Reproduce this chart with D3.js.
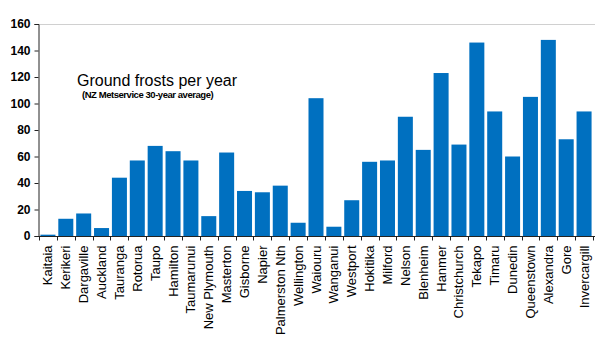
<!DOCTYPE html>
<html>
<head>
<meta charset="utf-8">
<script src="https://cdn.jsdelivr.net/npm/d3@7"></script>
<style>
  body { margin: 0; background: #fff; }
  svg { display: block; font-family: Arial, "Liberation Sans", sans-serif; }
</style>
</head>
<body>
<svg id="canvas" width="595" height="342"></svg>
<script>
'use strict';

const towns = ['Kaitaia', 'Kerikeri', 'Dargaville', 'Auckland', 'Tauranga', 'Rotorua',
  'Taupo', 'Hamilton', 'Taumarunui', 'New Plymouth', 'Masterton', 'Gisborne', 'Napier',
  'Palmerston Nth', 'Wellington', 'Waiouru', 'Wanganui', 'Westport', 'Hokitika',
  'Milford', 'Nelson', 'Blenheim', 'Hanmer', 'Christchurch', 'Tekapo', 'Timaru',
  'Dunedin', 'Queenstown', 'Alexandra', 'Gore', 'Invercargill'];
const frosts = [1, 13, 17, 6, 44, 57, 68, 64, 57, 15, 63, 34, 33, 38, 10, 104, 7, 27,
  56, 57, 90, 65, 123, 69, 146, 94, 60, 105, 148, 73, 94];
const yTicks = [0, 20, 40, 60, 80, 100, 120, 140, 160];

function Main() {
  const svg = d3.select('#canvas');
  const left = 39, right = 593, top = 24, bottom = 236;

  const x = d3.scaleBand().domain(towns).range([left, right]).paddingInner(0.16).paddingOuter(0.08);
  const y = d3.scaleLinear().domain([0, 160]).range([bottom, top]);

  // top border line
  svg.append('line')
    .attr('x1', left).attr('x2', 595)
    .attr('y1', y(160) + 0.5).attr('y2', y(160) + 0.5)
    .attr('stroke', '#d0d0d0').attr('stroke-width', 1);

  svg.selectAll('rect.bar')
      .data(frosts)
    .enter().append('rect')
      .attr('class', 'bar')
      .attr('x', function(d, i) { return x(towns[i]); })
      .attr('y', function(d) { return y(d); })
      .attr('width', x.bandwidth())
      .attr('height', function(d) { return bottom - y(d); })
      .attr('fill', '#0070c0');

  const yAxis = svg.append('g')
    .attr('transform', 'translate(' + (left - 0.5) + ',0)')
    .call(d3.axisLeft(y).tickValues(yTicks).tickSize(4).tickPadding(4));
  yAxis.select('.domain').attr('stroke', '#222');
  yAxis.selectAll('.tick line').attr('stroke', '#222');
  yAxis.selectAll('.tick text')
    .attr('fill', '#000').attr('font-size', 12).attr('font-weight', 'bold')
    .attr('font-family', 'Arial, "Liberation Sans", sans-serif');

  // x axis with ticks at band boundaries
  const step = x.step();
  const xAxis = svg.append('g').attr('transform', 'translate(0,' + (bottom + 0.5) + ')');
  xAxis.append('line')
    .attr('x1', left - 1).attr('x2', 595)
    .attr('stroke', '#222');
  xAxis.selectAll('line.tk')
      .data(d3.range(towns.length + 1))
    .enter().append('line')
      .attr('class', 'tk')
      .attr('x1', function(i) { return Math.round(left + i * step) + 0.5; })
      .attr('x2', function(i) { return Math.round(left + i * step) + 0.5; })
      .attr('y1', 0).attr('y2', 4)
      .attr('stroke', '#222');
  xAxis.selectAll('text')
      .data(towns)
    .enter().append('text')
      .attr('transform', function(d) {
        return 'translate(' + (x(d) + x.bandwidth() / 2 + 4.5) + ',9) rotate(-90)';
      })
      .attr('text-anchor', 'end')
      .attr('font-size', 13)
      .attr('fill', '#000')
      .text(function(d) { return d; });

  svg.append('text')
    .attr('x', 77).attr('y', 86)
    .attr('font-size', 16)
    .attr('fill', '#000')
    .text('Ground frosts per year');
  svg.append('text')
    .attr('x', 82).attr('y', 97.5)
    .attr('font-size', 9.5)
    .attr('font-weight', 'bold')
    .attr('letter-spacing', -0.45)
    .attr('fill', '#000')
    .text('(NZ Metservice 30-year average)');
}

Main();
</script>
</body>
</html>
